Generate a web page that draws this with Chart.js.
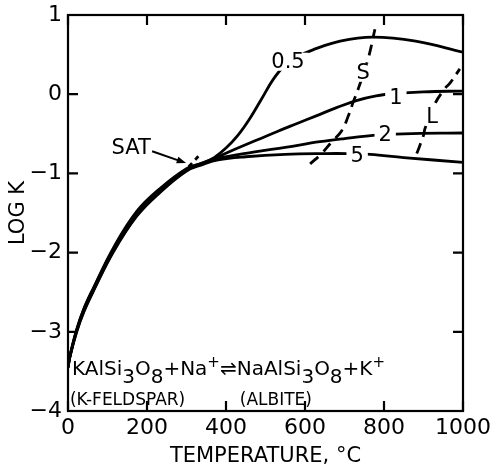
<!DOCTYPE html>
<html>
<head>
<meta charset="utf-8">
<script src="https://cdn.jsdelivr.net/npm/chart.js"></script>
<style>
  html, body { margin: 0; background: #fff; }
  #wrap { width: 491px; height: 469px; }
</style>
</head>
<body>
<div id="wrap"><canvas id="chart"></canvas></div>
<script>
// Log K of the K-feldspar / albite exchange vs temperature, one curve per pressure (kbar)
const tempsP05 = [0, 5, 22, 40, 64, 115, 174, 233, 300, 340, 370, 400, 430, 460, 490, 520, 550, 580, 620, 689, 772, 880, 1000];
const logKP05  = [-3.45, -3.30, -2.97, -2.71, -2.45, -1.94, -1.48, -1.19, -0.94, -0.87, -0.80, -0.68, -0.52, -0.31, -0.06, 0.19, 0.37, 0.47, 0.56, 0.67, 0.72, 0.67, 0.53];

const tempsP1 = [0, 5, 22, 40, 64, 115, 174, 233, 300, 340, 380, 430, 480, 530, 580, 630, 680, 730, 780, 830, 900, 1000];
const logKP1  = [-3.45, -3.31, -2.98, -2.72, -2.46, -1.96, -1.50, -1.21, -0.95, -0.87, -0.79, -0.68, -0.575, -0.47, -0.37, -0.27, -0.17, -0.08, -0.02, 0.01, 0.03, 0.04];

const tempsP2 = [0, 5, 22, 40, 64, 115, 174, 233, 300, 340, 380, 469, 550, 638, 700, 772, 850, 1000];
const logKP2  = [-3.45, -3.31, -2.99, -2.74, -2.48, -1.98, -1.53, -1.23, -0.96, -0.88, -0.81, -0.73, -0.67, -0.60, -0.56, -0.52, -0.50, -0.49];

const tempsP5 = [0, 5, 22, 40, 64, 115, 174, 233, 300, 340, 380, 450, 550, 650, 706, 765, 850, 1000];
const logKP5  = [-3.45, -3.31, -3.00, -2.75, -2.49, -1.99, -1.54, -1.24, -0.97, -0.89, -0.83, -0.79, -0.76, -0.75, -0.75, -0.76, -0.80, -0.86];

// dashed boundaries: solidus (S), liquidus (L) and saturation (SAT)
const tempsS = [613, 642, 668, 693, 710, 722, 735, 760, 777];
const logKS  = [-0.88, -0.75, -0.60, -0.46, -0.27, -0.10, 0.07, 0.45, 0.82];

const tempsL = [883, 900, 904, 929, 954, 967, 992];
const logKL  = [-0.75, -0.52, -0.43, -0.12, 0.07, 0.14, 0.32];

const tempsSat = [305, 338];
const logKSat  = [-0.92, -0.74];

const tempTicks = [0, 200, 400, 600, 800, 1000];
const logKTicks = [-4, -3, -2, -1, 0, 1];

const FONT = 'DejaVu Sans';

function pts(xs, ys) {
  return xs.map((x, i) => ({ x: x, y: ys[i] }));
}

function solid(data) {
  return { data: data, borderColor: '#000', borderWidth: 2.8, pointRadius: 0,
           tension: 0.4, fill: false };
}
function dashed(data, dash) {
  return { data: data, borderColor: '#000', borderWidth: 2.8, pointRadius: 0,
           borderDash: dash, tension: 0.4, fill: false };
}

// labels sitting on the lines (placed in data units)
const lineLabels = [
  { text: '0.5', t: 557, k: 0.41 },
  { text: '1',   t: 830, k: -0.04 },
  { text: '2',   t: 803, k: -0.51 },
  { text: '5',   t: 732, k: -0.77 },
  { text: 'S',   t: 747, k: 0.27 },
  { text: 'L',   t: 922, k: -0.28 }
];

// frame with inward tick marks on all four sides
const boxTicks = {
  id: 'boxTicks',
  afterDatasetsDraw(chart) {
    const { ctx, chartArea: a, scales: { x, y } } = chart;
    ctx.save();
    ctx.strokeStyle = '#000';
    ctx.lineWidth = 2.2;
    ctx.strokeRect(a.left, a.top, a.right - a.left, a.bottom - a.top);
    ctx.beginPath();
    tempTicks.forEach(v => {
      const px = x.getPixelForValue(v);
      ctx.moveTo(px, a.bottom); ctx.lineTo(px, a.bottom - 10);
      ctx.moveTo(px, a.top); ctx.lineTo(px, a.top + 10);
    });
    logKTicks.forEach(v => {
      const py = y.getPixelForValue(v);
      ctx.moveTo(a.left, py); ctx.lineTo(a.left + 10, py);
      ctx.moveTo(a.right, py); ctx.lineTo(a.right - 10, py);
    });
    ctx.stroke();
    ctx.restore();
  }
};

// curve labels, SAT arrow and the reaction
const notes = {
  id: 'notes',
  afterDatasetsDraw(chart) {
    const { ctx, scales: { x, y } } = chart;
    ctx.save();
    ctx.fillStyle = '#000';
    ctx.textAlign = 'center';
    ctx.textBaseline = 'middle';
    ctx.font = '21px "' + FONT + '"';
    lineLabels.forEach(l => {
      const px = x.getPixelForValue(l.t), py = y.getPixelForValue(l.k);
      const w = ctx.measureText(l.text).width;
      ctx.fillStyle = '#fff';
      ctx.fillRect(px - w / 2 - 4, py - 9, w + 8, 18);
      ctx.fillStyle = '#000';
      ctx.fillText(l.text, px, py + 1);
    });

    // SAT with its arrow
    ctx.fillText('SAT', x.getPixelForValue(160), y.getPixelForValue(-0.68));
    const ax0 = x.getPixelForValue(213), ay0 = y.getPixelForValue(-0.72);
    const ax1 = x.getPixelForValue(299), ay1 = y.getPixelForValue(-0.87);
    const ang = Math.atan2(ay1 - ay0, ax1 - ax0);
    ctx.strokeStyle = '#000';
    ctx.lineWidth = 2;
    ctx.beginPath();
    ctx.moveTo(ax0, ay0);
    ctx.lineTo(ax1 - 6 * Math.cos(ang), ay1 - 6 * Math.sin(ang));
    ctx.stroke();
    ctx.beginPath();
    ctx.moveTo(ax1, ay1);
    ctx.lineTo(ax1 - 10 * Math.cos(ang - 0.35), ay1 - 10 * Math.sin(ang - 0.35));
    ctx.lineTo(ax1 - 10 * Math.cos(ang + 0.35), ay1 - 10 * Math.sin(ang + 0.35));
    ctx.closePath();
    ctx.fill();

    // reaction line with sub/superscripts
    const parts = [
      ['KAlSi', 0], ['3', 8], ['O', 0], ['8', 8], ['+', 0], ['Na', 0], ['+', -8, true],
      ['\u21CC', 0], ['NaAlSi', 0], ['3', 8], ['O', 0], ['8', 8], ['+', 0], ['K', 0], ['+', -8, true]
    ];
    ctx.textAlign = 'left';
    ctx.textBaseline = 'alphabetic';
    let px = x.getPixelForValue(10);
    const base = y.getPixelForValue(-3.544);
    parts.forEach(p => {
      ctx.font = (p[2] ? 15 : 20) + 'px "' + FONT + '"';
      ctx.fillText(p[0], px, base + p[1]);
      px += ctx.measureText(p[0]).width;
    });
    ctx.font = '17px "' + FONT + '"';
    const sub = y.getPixelForValue(-3.924);
    ctx.fillText('(K-FELDSPAR)', x.getPixelForValue(5), sub);
    ctx.fillText('(ALBITE)', x.getPixelForValue(435), sub);
    ctx.restore();
  }
};

new Chart(document.getElementById('chart'), {
  type: 'line',
  data: {
    datasets: [
      solid(pts(tempsP05, logKP05)),
      solid(pts(tempsP1, logKP1)),
      solid(pts(tempsP2, logKP2)),
      solid(pts(tempsP5, logKP5)),
      dashed(pts(tempsS, logKS), [11, 7]),
      dashed(pts(tempsL, logKL), [11, 7]),
      dashed(pts(tempsSat, logKSat), [5, 5])
    ]
  },
  options: {
    responsive: true,
    maintainAspectRatio: false,
    animation: false,
    layout: { padding: { left: 0, top: 15, right: 28, bottom: 0 } },
    plugins: { legend: { display: false }, tooltip: { enabled: false } },
    scales: {
      x: {
        type: 'linear', min: 0, max: 1000,
        afterBuildTicks: s => { s.ticks = tempTicks.map(v => ({ value: v })); },
        afterFit: s => { s.height = 58; s.paddingLeft = 0; s.paddingRight = 0; },
        grid: { display: false, drawTicks: false },
        border: { display: false },
        ticks: { color: '#000', padding: 4, maxRotation: 0, autoSkip: false,
                 font: { family: FONT, size: 22 }, callback: v => String(v) },
        title: { display: true, text: 'TEMPERATURE, °C', color: '#000', padding: 0,
                 font: { family: FONT, size: 21 } }
      },
      y: {
        type: 'linear', min: -4, max: 1,
        afterBuildTicks: s => { s.ticks = logKTicks.map(v => ({ value: v })); },
        afterFit: s => { s.width = 68; s.paddingTop = 0; s.paddingBottom = 0; },
        grid: { display: false, drawTicks: false },
        border: { display: false },
        ticks: { color: '#000', padding: 6, font: { family: FONT, size: 22 },
                 callback: v => v < 0 ? '\u2212' + Math.abs(v) : String(v) },
        title: { display: true, text: 'LOG K', color: '#000', padding: { top: 6, bottom: 0 },
                 font: { family: FONT, size: 21 } }
      }
    }
  },
  plugins: [boxTicks, notes]
});
</script>
</body>
</html>
